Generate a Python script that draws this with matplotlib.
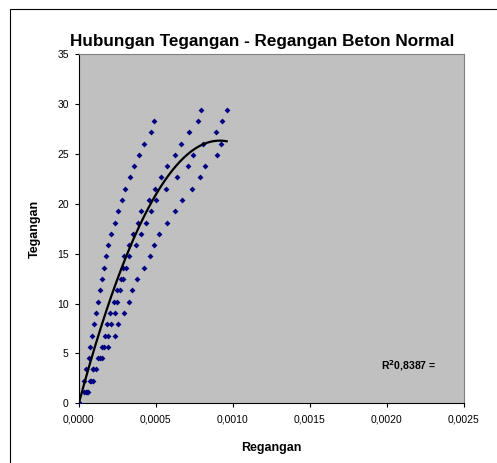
import numpy as np
import matplotlib
matplotlib.use("Agg")
import matplotlib.pyplot as plt
from matplotlib.patches import Rectangle

plt.rcParams["font.family"] = ["Liberation Sans", "DejaVu Sans"]

# ── data: stress levels (MPa) and strain readings of four specimens ──
tegangan = [0.00, 1.13, 2.26, 3.40, 4.53, 5.66, 6.79, 7.92, 9.05, 10.19,
            11.32, 12.45, 13.58, 14.71, 15.84, 16.98, 18.11, 19.24, 20.37,
            21.50, 22.64, 23.77, 24.90, 26.03, 27.16, 28.29, 29.43]

regangan_a = [0.000000, 0.000036, 0.000034, 0.000049, 0.000067, 0.000073, 0.000087,
              0.000102, 0.000114, 0.000127, 0.000138, 0.000153, 0.000165, 0.000177,
              0.000189, 0.000211, 0.000235, 0.000258, 0.000280, 0.000302, 0.000332,
              0.000360, 0.000394, 0.000423, 0.000468, 0.000490]
regangan_b = [0.000000, 0.000049, 0.000075, 0.000092, 0.000125, 0.000154, 0.000173,
              0.000188, 0.000206, 0.000230, 0.000248, 0.000278, 0.000287, 0.000296,
              0.000326, 0.000352, 0.000383, 0.000405, 0.000457, 0.000496, 0.000532,
              0.000572, 0.000623, 0.000663, 0.000715, 0.000772, 0.000793]
regangan_c = [0.000000, 0.000052, 0.000078, 0.000097, 0.000139, 0.000167, 0.000190,
              0.000211, 0.000235, 0.000252, 0.000269, 0.000291, 0.000308, 0.000326,
              0.000372, 0.000407, 0.000440, 0.000468, 0.000501, 0.000566, 0.000639,
              0.000713, 0.000743, 0.000805, 0.000890, 0.000928, 0.000961]
regangan_d = [0.000000, 0.000064, 0.000096, 0.000114, 0.000151, 0.000191, 0.000234,
              0.000258, 0.000292, 0.000326, 0.000349, 0.000377, 0.000423, 0.000462,
              0.000491, 0.000520, 0.000572, 0.000628, 0.000669, 0.000736, 0.000788,
              0.000822, 0.000897, 0.000927]

xticks = [0.0, 0.0005, 0.0010, 0.0015, 0.0020, 0.0025]
yticks = [0, 5, 10, 15, 20, 25, 30, 35]

series = [regangan_a, regangan_b, regangan_c, regangan_d]

W, H = 497, 463
fig = plt.figure(figsize=(W / 100, H / 100), dpi=100)
ax = fig.add_axes([78.5 / W, 1 - 403.3 / H, (464 - 78.5) / W, (403.3 - 54) / H])

ax.set_facecolor("#c0c0c0")
for s in series:
    ax.plot(s, tegangan[:len(s)], linestyle="none", marker="D", markersize=3.0,
            color="#000080", markeredgewidth=0, zorder=3)

# polynomial trendline (order 2) fitted on all points
x_all = np.concatenate([np.array(s) for s in series])
y_all = np.concatenate([np.array(tegangan[:len(s)]) for s in series])
coef = np.polyfit(x_all, y_all, 2)
xs = np.linspace(0, x_all.max(), 200)
ax.plot(xs, np.polyval(coef, xs), color="black", lw=1.6, zorder=4)

ax.set_xlim(0, 0.0025)
ax.set_ylim(0, 35)
ax.set_xticks(xticks)
ax.set_yticks(yticks)
ax.set_xticklabels([("%.4f" % v).replace(".", ",") for v in xticks])
ax.tick_params(labelsize=7.5, length=3, width=0.8, direction="out", pad=4)
ax.tick_params(axis="x", pad=5)

for side in ["top", "right"]:
    ax.spines[side].set_color("#808080")
    ax.spines[side].set_linewidth(0.8)
for side in ["left", "bottom"]:
    ax.spines[side].set_color("black")
    ax.spines[side].set_linewidth(0.8)

ax.set_xlabel("Regangan", fontsize=9, fontweight="bold", labelpad=13)
ax.set_ylabel("Tegangan", fontsize=9, fontweight="bold", labelpad=12)

ax.text(0.785, 0.107, r"R$^{\mathbf{2}}$0,8387 =", transform=ax.transAxes,
        fontsize=7.5, fontweight="bold", ha="left", va="center")

fig.text(262 / W, 1 - 45.7 / H, "Hubungan Tegangan - Regangan Beton Normal",
         fontsize=12.3, fontweight="bold", ha="center", va="baseline")

# chart area frame (runs off the right and bottom edges)
fig.patches.append(Rectangle((9.5 / W, -1), 2, 2 - 8.5 / H, transform=fig.transFigure,
                             fill=False, edgecolor="black", lw=0.8))

fig.savefig("out.png", dpi=100)
